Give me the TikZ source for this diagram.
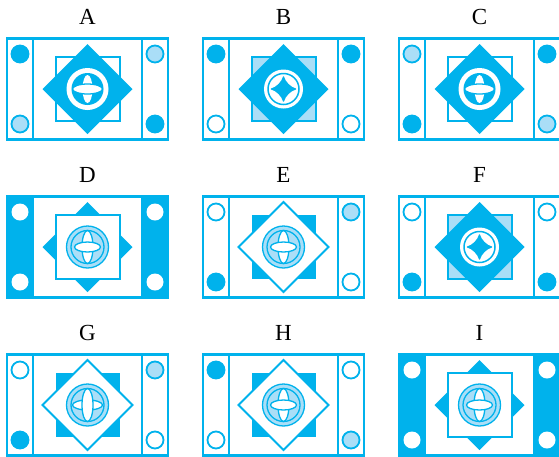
\documentclass[tikz,border=0pt]{standalone}
\usepackage{fontspec}
\setmainfont{Liberation Serif}
\definecolor{cb}{RGB}{0,178,236}
\definecolor{cl}{RGB}{170,222,247}
\tikzset{
  frame/.style={draw=cb, line width=2.2pt},
  cblue/.style={fill=cb, draw=cb, line width=1.8pt},
  clight/.style={fill=cl, draw=cb, line width=1.8pt},
  cwhite/.style={fill=white, draw=cb, line width=1.8pt},
  cvoid/.style={fill=white},
  shapeline/.style={draw=cb, line width=2pt},
  thin/.style={draw=cb, line width=1.3pt},
  lab/.style={anchor=base, inner sep=0pt, font=\fontsize{23}{23}\selectfont}
}
% cores
\newcommand\coreSqW{\draw[shapeline, fill=white] (-32,-32) rectangle (32,32);
  \fill[cb] (0,-45) -- (45,0) -- (0,45) -- (-45,0) -- cycle;}
\newcommand\coreSqL{\draw[shapeline, fill=cl] (-32,-32) rectangle (32,32);
  \fill[cb] (0,-45) -- (45,0) -- (0,45) -- (-45,0) -- cycle;}
\newcommand\coreDiaB{\fill[cb] (0,-45) -- (45,0) -- (0,45) -- (-45,0) -- cycle;
  \draw[shapeline, fill=white] (-32,-32) rectangle (32,32);}
\newcommand\coreSqB{\fill[cb] (-32,-32) rectangle (32,32);
  \draw[shapeline, fill=white, line join=miter] (0,-45) -- (45,0) -- (0,45) -- (-45,0) -- cycle;}
% symbols
\newcommand\symEye{\fill[white] (0,0) circle (21);
  \fill[cb] (0,0) circle (16);
  \fill[white] (0,0) ellipse (5 and 14);
  \draw[thin, fill=white] (0,0) ellipse (15 and 5);}
\newcommand\symStar{\fill[white] (0,0) circle (19.5);
  \draw[cb, line width=1.5pt] (0,0) circle (15.5);
  \fill[cb, rounded corners=1.5pt] (0,14) .. controls (2,7) and (7,2) .. (14,0)
    .. controls (7,-2) and (2,-7) .. (0,-14)
    .. controls (-2,-7) and (-7,-2) .. (-14,0)
    .. controls (-7,2) and (-2,7) .. cycle;}
\newcommand\symGlobeH{\draw[thin, fill=cl] (0,0) circle (21);
  \draw[thin, fill=cl] (0,0) circle (16.5);
  \draw[thin, fill=white] (0,0) ellipse (5.5 and 16.5);
  \draw[thin, fill=white] (0,0) ellipse (13 and 5);}
\newcommand\symGlobeV{\draw[thin, fill=cl] (0,0) circle (21);
  \draw[thin, fill=cl] (0,0) circle (16.5);
  \draw[thin, fill=white] (0,0) ellipse (15 and 5);
  \draw[thin, fill=white] (0,0) ellipse (5.5 and 16.5);}
% panel: cx cy label strip(0 white/1 blue) TL BL TR BR core symbol
\newcommand\panel[9]{%
  \begin{scope}[shift={(#1,#2)}]
    \node[lab] (lab#3) at (0,-65) {#3};
    \ifnum#4=1
      \draw[frame, fill=cb] (-80.5,-50.5) rectangle (80.5,50.5);
      \draw[frame, fill=white] (-54.5,-50.5) rectangle (54.5,50.5);
    \else
      \draw[frame] (-80.5,-50.5) rectangle (80.5,50.5);
      \draw[frame] (-54.5,-50.5) -- (-54.5,50.5);
      \draw[frame] (54.5,-50.5) -- (54.5,50.5);
    \fi
    \path[#5] (-67.5,-35) circle (8.5);
    \path[#6] (-67.5,35) circle (8.5);
    \path[#7] (67.5,-35) circle (8.5);
    \path[#8] (67.5,35) circle (8.5);
    #9
  \end{scope}}
\begin{document}
\begin{tikzpicture}[x={(1pt,0)}, y={(0,-1pt)}]
\useasboundingbox (0,0) rectangle (559,456);
\panel{87.5}{89}{A}{0}{cblue}{clight}{clight}{cblue}{\coreSqW\symEye}
\panel{283.5}{89}{B}{0}{cblue}{cwhite}{cblue}{cwhite}{\coreSqL\symStar}
\panel{479.5}{89}{C}{0}{clight}{cblue}{cblue}{clight}{\coreSqW\symEye}
\panel{87.5}{247}{D}{1}{cvoid}{cvoid}{cvoid}{cvoid}{\coreDiaB\symGlobeH}
\panel{283.5}{247}{E}{0}{cwhite}{cblue}{clight}{cwhite}{\coreSqB\symGlobeH}
\panel{479.5}{247}{F}{0}{cwhite}{cblue}{cwhite}{cblue}{\coreSqL\symStar}
\panel{87.5}{405}{G}{0}{cwhite}{cblue}{clight}{cwhite}{\coreSqB\symGlobeV}
\panel{283.5}{405}{H}{0}{cblue}{cwhite}{cwhite}{clight}{\coreSqB\symGlobeH}
\panel{479.5}{405}{I}{1}{cvoid}{cvoid}{cvoid}{cvoid}{\coreDiaB\symGlobeH}
\end{tikzpicture}
\end{document}
